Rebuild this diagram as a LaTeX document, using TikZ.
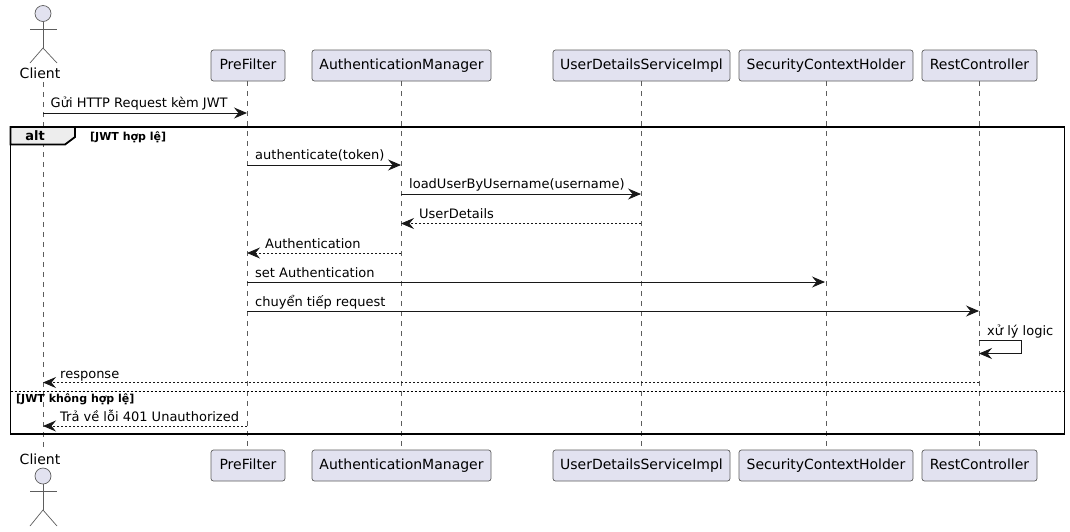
\documentclass[tikz,border=0pt]{standalone}
\usepackage{fontspec}
\setmainfont{DejaVu Sans}
\usepackage{tikz}
\usetikzlibrary{arrows.meta}
\definecolor{boxfill}{HTML}{E2E2F0}
\definecolor{linegray}{HTML}{181818}
\tikzstyle{party}=[draw=linegray!70,fill=boxfill,rounded corners=2.5pt,line width=0.7pt,minimum height=31pt,inner sep=0pt,text height=10.5pt,text depth=3pt,font=\fontsize{14}{16}\selectfont]
\tikzstyle{life}=[draw=linegray!70,line width=0.5pt,dash pattern=on 5pt off 5pt]
\tikzstyle{stick}=[draw=linegray!70,line width=0.7pt]
\tikzstyle{msg}=[-{Stealth[length=13pt,width=11pt,inset=4.5pt]},draw=linegray,line width=0.9pt]
\tikzstyle{back}=[msg,dash pattern=on 2pt off 2pt]
\tikzstyle{msgtext}=[anchor=base west,inner sep=0pt,font=\fontsize{13}{15}\selectfont]
\tikzstyle{guard}=[anchor=base west,inner sep=0pt,font=\fontsize{11}{13}\selectfont\bfseries]
\tikzstyle{frame}=[draw=black,line width=1.8pt]

\begin{document}
\begin{tikzpicture}[x=1pt,y=1pt]
      \useasboundingbox (0,-531) rectangle (1070,0);

      % actors
      \node[inner sep=0pt,font=\fontsize{14}{16}\selectfont] (c0) at (40,-73) {Client};
      \node[inner sep=0pt,font=\fontsize{14}{16}\selectfont] (c9) at (40,-459) {Client};
      \node[circle,stick,fill=boxfill,minimum size=16pt,inner sep=0pt] (h0) at (43,-13.5) {};
      \node[circle,stick,fill=boxfill,minimum size=16pt,inner sep=0pt] (h9) at (43,-476) {};
      \coordinate (hip0) at (43,-48);
      \coordinate (hip9) at (43,-510);
      \draw[stick] (h0) -- (hip0);
      \draw[stick] (30,-29) -- (57,-29);
      \draw[stick] (30,-63) -- (hip0) -- (57,-63);
      \draw[stick] (h9) -- (hip9);
      \draw[stick] (30,-491) -- (57,-491);
      \draw[stick] (30,-526) -- (hip9) -- (57,-526);

      % boxes
      \node[party,minimum width=74pt] (p0) at (248,-65.5) {PreFilter};
      \node[party,minimum width=179pt] (a0) at (401.5,-65.5) {AuthenticationManager};
      \node[party,minimum width=177pt] (u0) at (641.5,-65.5) {UserDetailsServiceImpl};
      \node[party,minimum width=174pt] (s0) at (826,-65.5) {SecurityContextHolder};
      \node[party,minimum width=115pt] (r0) at (979.5,-65.5) {RestController};
      \node[party,minimum width=74pt] (p9) at (248,-465.5) {PreFilter};
      \node[party,minimum width=179pt] (a9) at (401.5,-465.5) {AuthenticationManager};
      \node[party,minimum width=177pt] (u9) at (641.5,-465.5) {UserDetailsServiceImpl};
      \node[party,minimum width=174pt] (s9) at (826,-465.5) {SecurityContextHolder};
      \node[party,minimum width=115pt] (r9) at (979.5,-465.5) {RestController};

      % lifelines
      \coordinate (cl0) at (43,-82);
      \coordinate (cl9) at (43,-450);
      \draw[life] (cl0) -- (cl9);
      \coordinate (pl0) at (247,-81);
      \coordinate (pl9) at (247,-450);
      \draw[life] (pl0) -- (pl9);
      \draw[life] (a0) -- (a9);
      \draw[life] (u0) -- (u9);
      \draw[life] (s0) -- (s9);
      \draw[life] (r0) -- (r9);

      % alt frame
      \coordinate (f0) at (10.5,-127);
      \coordinate (f1) at (1064.5,-434);
      \draw[frame,fill=black!7] (10.5,-127) -- (75,-127) -- (75,-137) -- (65,-144.5) -- (10.5,-144.5) -- cycle;
      \draw[frame] (f0) rectangle (f1);
      \node[inner sep=0pt,font=\fontsize{13}{15}\selectfont\bfseries] (altlabel) at (35,-135.5) {alt};
      \node[guard] (g1) at (90,-140) {[JWT hợp lệ]};
      \coordinate (d0) at (10.5,-391);
      \coordinate (d1) at (1064.5,-391);
      \draw[draw=black,line width=0.9pt,dash pattern=on 2pt off 2pt] (d0) -- (d1);
      \node[guard] (g2) at (16,-402) {[JWT không hợp lệ]};

      % messages
      \coordinate (m1a) at (43,-113);
      \coordinate (m1b) at (247,-113);
      \draw[msg] (m1a) -- (m1b);
      \node[msgtext] (t1) at (50.5,-107) {Gửi HTTP Request kèm JWT};
      \coordinate (m2a) at (247,-165);
      \coordinate (m2b) at (401,-165);
      \draw[msg] (m2a) -- (m2b);
      \node[msgtext] (t2) at (255,-159) {authenticate(token)};
      \coordinate (m3a) at (401,-194);
      \coordinate (m3b) at (641,-194);
      \draw[msg] (m3a) -- (m3b);
      \node[msgtext] (t3) at (409,-188) {loadUserByUsername(username)};
      \coordinate (m4a) at (641,-223.5);
      \coordinate (m4b) at (401,-223.5);
      \draw[back] (m4a) -- (m4b);
      \node[msgtext] (t4) at (419,-218) {UserDetails};
      \coordinate (m5a) at (401,-253);
      \coordinate (m5b) at (247,-253);
      \draw[back] (m5a) -- (m5b);
      \node[msgtext] (t5) at (265,-248) {Authentication};
      \coordinate (m6a) at (247,-282);
      \coordinate (m6b) at (825,-282);
      \draw[msg] (m6a) -- (m6b);
      \node[msgtext] (t6) at (255,-277) {set Authentication};
      \coordinate (m7a) at (247,-311);
      \coordinate (m7b) at (979,-311);
      \draw[msg] (m7a) -- (m7b);
      \node[msgtext] (t7) at (255,-306) {chuyển tiếp request};
      \coordinate (m8a) at (979,-340.5);
      \coordinate (m8b) at (979,-353.5);
      \draw[msg] (m8a) -- (1021.5,-340.5) -- (1021.5,-353.5) -- (m8b);
      \node[msgtext] (t8) at (987,-335) {xử lý logic};
      \coordinate (m9a) at (979,-382.5);
      \coordinate (m9b) at (43,-382.5);
      \draw[back] (m9a) -- (m9b);
      \node[msgtext] (t9) at (60,-378) {response};
      \coordinate (m10a) at (247,-426);
      \coordinate (m10b) at (43,-426);
      \draw[back] (m10a) -- (m10b);
      \node[msgtext] (t10) at (60,-421) {Trả về lỗi 401 Unauthorized};
    \end{tikzpicture}
\end{document}
